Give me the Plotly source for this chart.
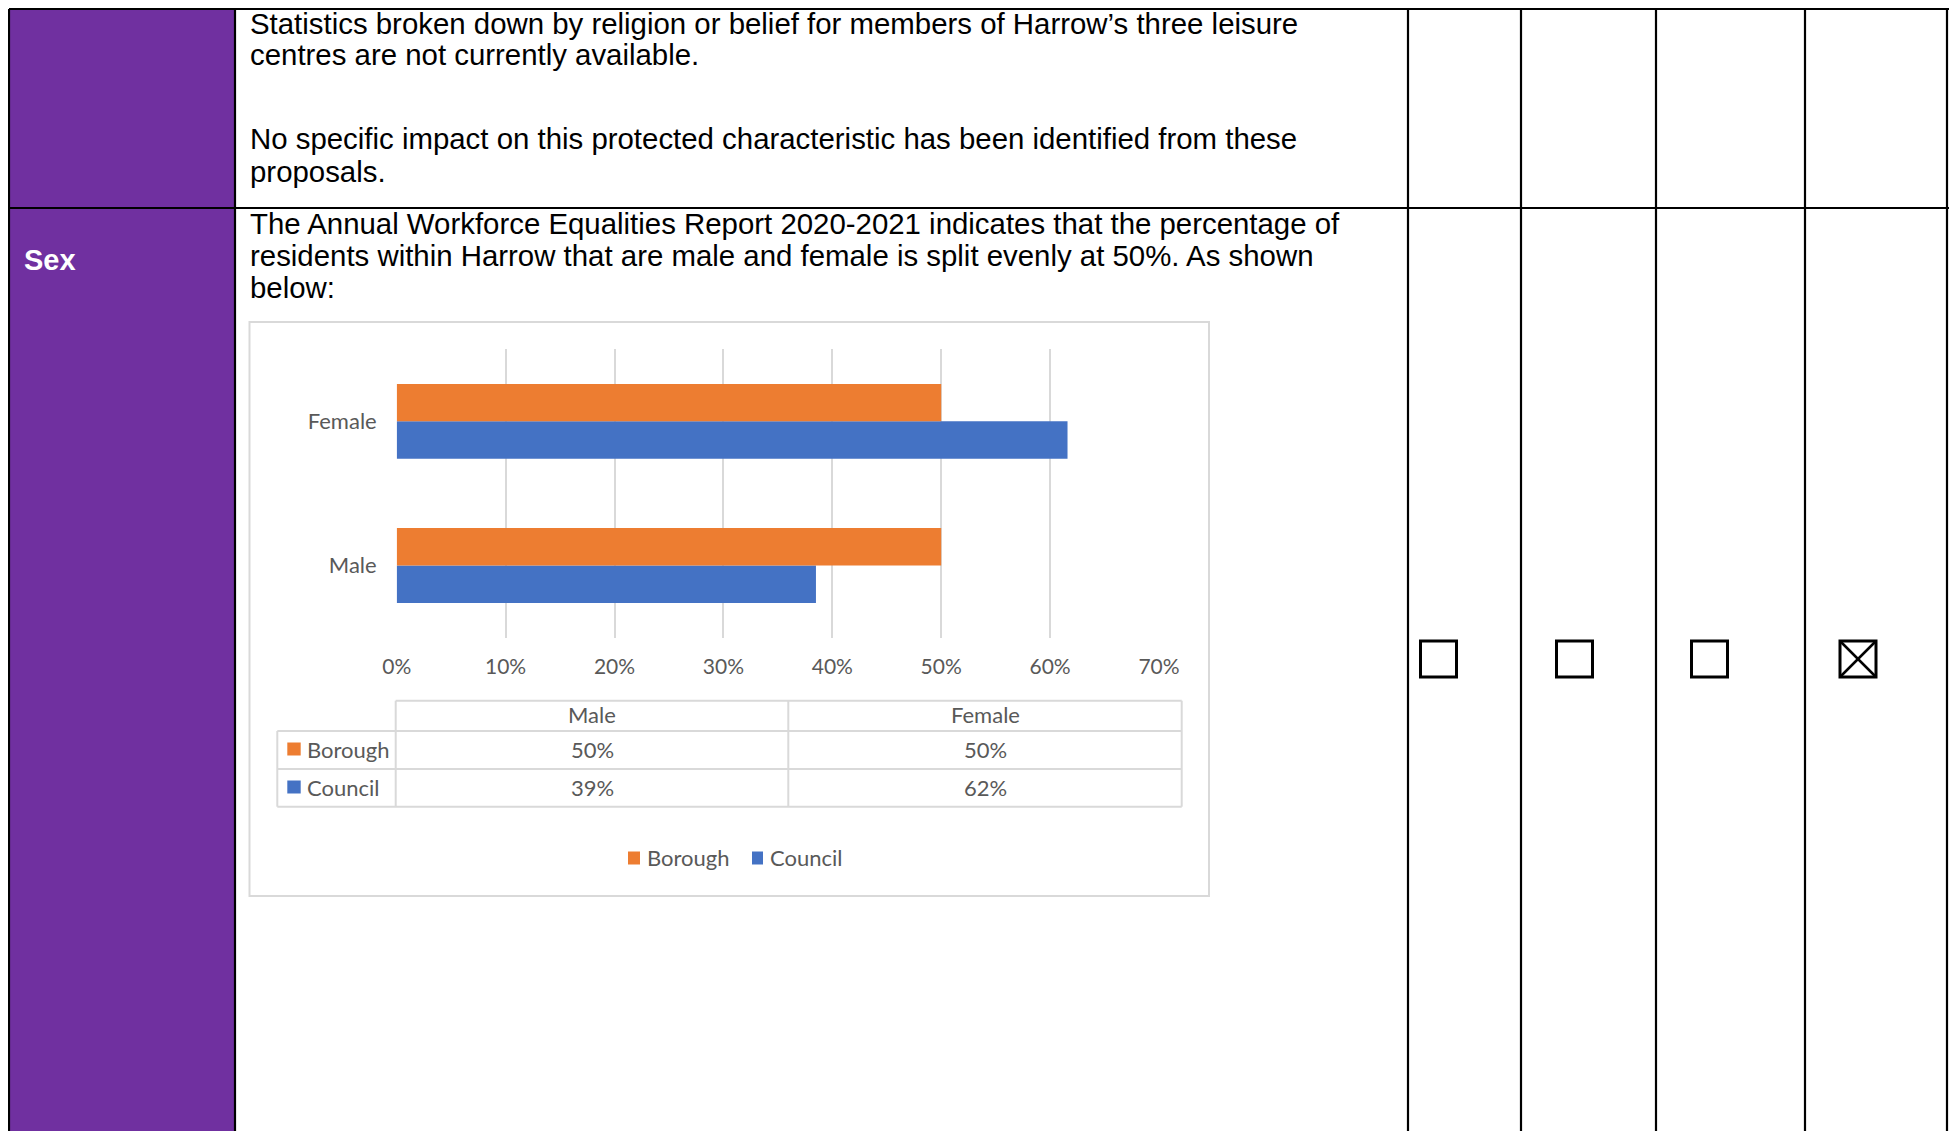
import plotly.graph_objects as go

W, H = 1957, 1131
OFF = 8  # page body margin compensation

# ---- data ----
categories = ["Male", "Female"]
series_names = ["Borough", "Council"]
borough_values = [50, 50]
council_values = [38.5, 61.6]
x_ticks = [0, 10, 20, 30, 40, 50, 60, 70]

top_lines = [
    "Statistics broken down by religion or belief for members of Harrow\u2019s three leisure",
    "centres are not currently available.",
    "No specific impact on this protected characteristic has been identified from these",
    "proposals.",
]
sex_lines = [
    "The Annual Workforce Equalities Report 2020-2021 indicates that the percentage of",
    "residents within Harrow that are male and female is split evenly at 50%. As shown",
    "below:",
]
row_label = "Sex"
checkbox_states = [False, False, False, True]

ORANGE = "#ED7D31"
BLUE = "#4472C4"
PURPLE = "#7030A0"
GRAY_TXT = "#595959"
GRID = "#D9D9D9"


def X(px):
    return max(px - OFF, 1) / W


def Y(py):
    return 1 - max(py - OFF, 1) / H


shapes = []
annotations = []


def line(x0, y0, x1, y1, color="black", width=2.2):
    shapes.append(dict(type="line", xref="paper", yref="paper",
                       x0=X(x0), y0=Y(y0), x1=X(x1), y1=Y(y1),
                       line=dict(color=color, width=width), layer="above"))


def rect(x0, y0, x1, y1, fill=None, color=None, width=0, layer="below"):
    shapes.append(dict(type="rect", xref="paper", yref="paper",
                       x0=X(x0), y0=Y(y0), x1=X(x1), y1=Y(y1),
                       fillcolor=fill if fill else "rgba(0,0,0,0)",
                       line=dict(color=color if color else "rgba(0,0,0,0)", width=width),
                       layer=layer))


def text(x, y, s, size=29.4, color="black", family="Liberation Sans, Arial", xanchor="left", bold=False):
    if bold:
        s = "<b>" + s + "</b>"
    annotations.append(dict(xref="paper", yref="paper", x=X(x), y=Y(y), text=s,
                            showarrow=False, xanchor=xanchor, yanchor="middle",
                            font=dict(size=size, color=color, family=family)))


def pct(v):
    return f"{int(v + 0.5)}%"


# ---- document table ----
rect(7, 7, 235, H + OFF + 5, fill=PURPLE)
line(7, 6, 1960, 6)
line(7, 6, 7, H + OFF + 5)
line(235, 6, 235, H + OFF + 5)
line(7, 208, 1960, 208)
for cx in [1408, 1521, 1656, 1805, 1947]:
    line(cx, 6, cx, H + OFF + 5)

for ypos, s in zip([23, 55, 139, 171], top_lines):
    text(248, ypos, s)
for ypos, s in zip([223, 255, 287], sex_lines):
    text(248, ypos, s)
text(22, 260, row_label, color="white", bold=True, size=29)

# checkboxes
for cx, checked in zip([1438.5, 1574.5, 1709.5, 1858], checkbox_states):
    s = 18
    cy = 659
    rect(cx - s, cy - s, cx + s, cy + s, color="black", width=3, layer="above")
    if checked:
        line(cx - s, cy - s, cx + s, cy + s, width=2.5)
        line(cx - s, cy + s, cx + s, cy - s, width=2.5)

# ---- chart frame ----
rect(249.5, 322, 1209, 896, fill="white", color=GRID, width=2)

# plot area coordinates (reference pixels)
PX0, PX1 = 396.7, 1159.0
PY0, PY1 = 349.3, 637.5

fig = go.Figure()
fig.add_trace(go.Bar(y=categories, x=council_values, orientation="h", name=series_names[1],
                     marker=dict(color=BLUE, line=dict(width=0))))
fig.add_trace(go.Bar(y=categories, x=borough_values, orientation="h", name=series_names[0],
                     marker=dict(color=ORANGE, line=dict(width=0))))

# ---- data table under chart ----
CF = "Lato"
tx0, tx1, tx2, tx3 = 277.3, 395.7, 788.3, 1181.7
ty0, ty1, ty2, ty3 = 700.7, 731, 769, 806.7
tc = GRID
lw = 2
line(tx1, ty0, tx3, ty0, tc, lw)
line(tx0, ty1, tx3, ty1, tc, lw)
line(tx0, ty2, tx3, ty2, tc, lw)
line(tx0, ty3, tx3, ty3, tc, lw)
line(tx0, ty1, tx0, ty3, tc, lw)
line(tx1, ty0, tx1, ty3, tc, lw)
line(tx2, ty0, tx2, ty3, tc, lw)
line(tx3, ty0, tx3, ty3, tc, lw)

col_centers = [(tx1 + tx2) / 2, (tx2 + tx3) / 2]
for cxp, cat in zip(col_centers, categories):
    text(cxp, 714.5, cat, size=22, color=GRAY_TXT, family=CF, xanchor="center")
rows = [(series_names[0], borough_values, ORANGE, 749),
        (series_names[1], council_values, BLUE, 787)]
for name, vals, col, ry in rows:
    rect(287.3, ry - 6.5, 300.7, ry + 6.5, fill=col, layer="above")
    text(305, ry, name, size=22, color=GRAY_TXT, family=CF)
    for cxp, v in zip(col_centers, vals):
        text(cxp, ry, pct(v), size=22, color=GRAY_TXT, family=CF, xanchor="center")

# ---- legend ----
ly = 858
rect(628, ly - 6.5, 640, ly + 6.5, fill=ORANGE, layer="above")
text(645, ly, series_names[0], size=22, color=GRAY_TXT, family=CF)
rect(752, ly - 6.5, 763, ly + 6.5, fill=BLUE, layer="above")
text(768, ly, series_names[1], size=22, color=GRAY_TXT, family=CF)

fig.update_layout(
    width=W, height=H,
    margin=dict(l=0, r=0, t=0, b=0, autoexpand=False),
    paper_bgcolor="white", plot_bgcolor="rgba(0,0,0,0)",
    barmode="group", bargap=0.48, bargroupgap=0,
    showlegend=False,
    shapes=shapes, annotations=annotations,
    xaxis=dict(domain=[X(PX0), X(PX1)], range=[0, 70], tickvals=x_ticks,
               ticktext=[f"{t}%" for t in x_ticks], showgrid=True, gridcolor=GRID,
               gridwidth=2, zeroline=False, showline=False, ticks="",
               ticklabelstandoff=14, automargin=False,
               tickfont=dict(size=21, color=GRAY_TXT, family=CF), fixedrange=True),
    yaxis=dict(domain=[Y(PY1), Y(PY0)], range=[-0.5, 1.5], type="category",
               categoryorder="array", categoryarray=categories,
               showgrid=False, zeroline=False, showline=False, ticks="",
               ticklabelstandoff=19, automargin=False,
               tickfont=dict(size=22, color=GRAY_TXT, family=CF), fixedrange=True),
)

fig.write_html("out.html")
